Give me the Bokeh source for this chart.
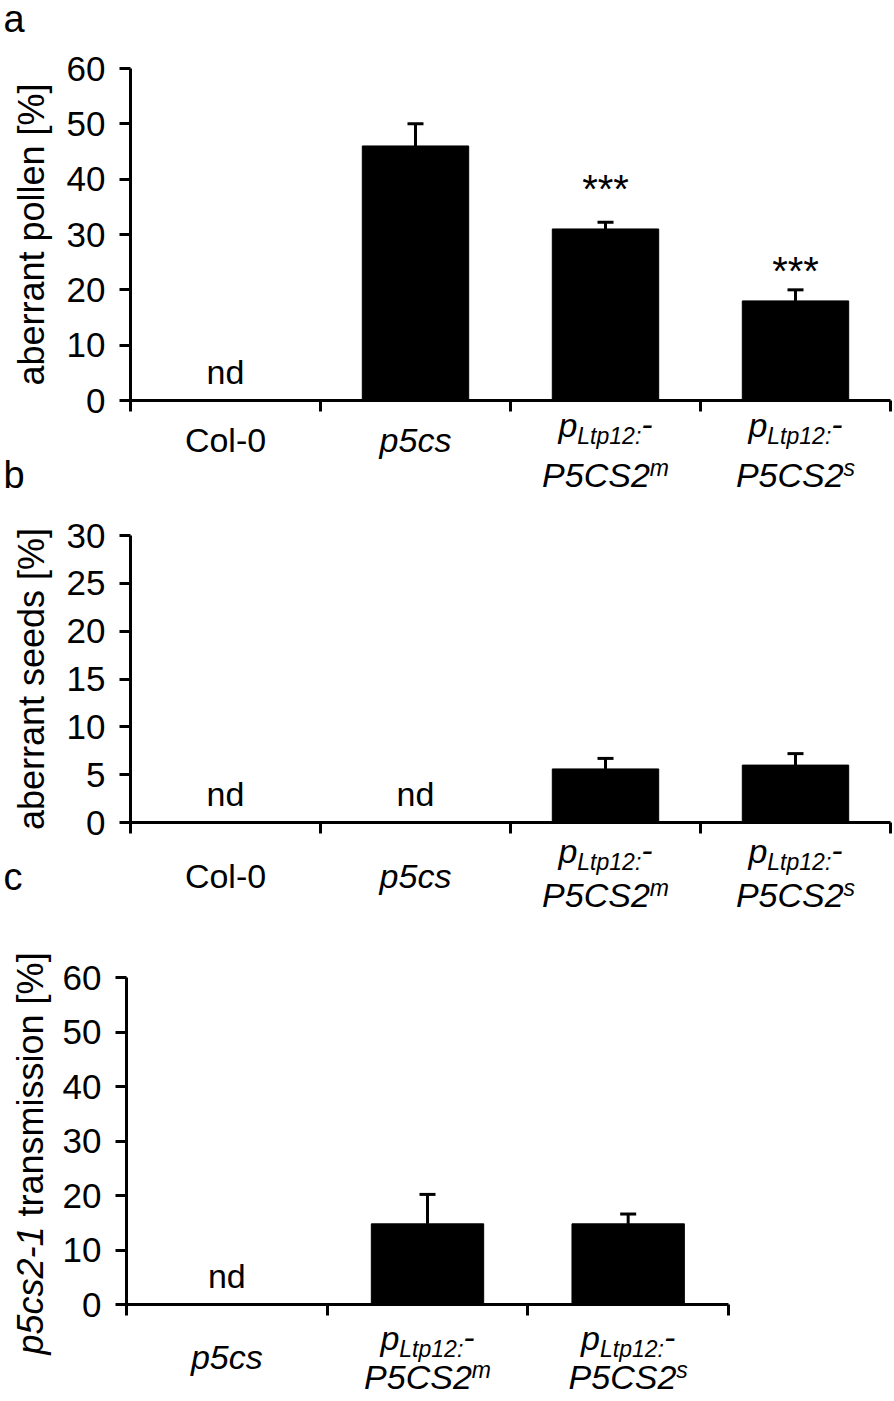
import math
from bokeh.plotting import figure
from bokeh.layouts import column
from bokeh.models import (Range1d, FixedTicker, Label, Whisker, TeeHead,
                          ColumnDataSource, CustomJSTickFormatter)
from bokeh.core.properties import value
from bokeh.embed import file_html
from bokeh.resources import INLINE

FONT = "Liberation Sans"

# ---------------- data ----------------
cats_ab = ["Col-0", "p5cs", "pLtp12:-P5CS2m", "pLtp12:-P5CS2s"]
cats_c = ["p5cs", "pLtp12:-P5CS2m", "pLtp12:-P5CS2s"]

pollen = [0.0, 46.0, 31.0, 18.0]
pollen_err = [0.0, 4.0, 1.2, 2.0]
pollen_nd = [True, False, False, False]
pollen_sig = ["", "", "***", "***"]
pollen_sig_y = [0, 0, 38.3, 23.4]

seeds = [0.0, 0.0, 5.6, 6.0]
seeds_err = [0.0, 0.0, 1.1, 1.2]
seeds_nd = [True, True, False, False]

transmission = [0.0, 14.8, 14.8]
transmission_err = [0.0, 5.4, 1.8]
transmission_nd = [True, False, False]

yticks_a = [0, 10, 20, 30, 40, 50, 60]
yticks_b = [0, 5, 10, 15, 20, 25, 30]
yticks_c = [0, 10, 20, 30, 40, 50, 60]

# rich category labels: lines of (text, font style, position)
LABELS = {
    "Col-0": [[("Col-0", "normal", "")]],
    "p5cs": [[("p5cs", "italic", "")]],
    "pLtp12:-P5CS2m": [[("p", "italic", ""), ("Ltp12:", "italic", "sub"), ("-", "italic", "")],
                       [("P5CS2", "italic", ""), ("m", "italic", "sup")]],
    "pLtp12:-P5CS2s": [[("p", "italic", ""), ("Ltp12:", "italic", "sub"), ("-", "italic", "")],
                       [("P5CS2", "italic", ""), ("s", "italic", "sup")]],
}

# Arial / Liberation Sans advance widths (1/1000 em)
W = {' ': 278, '-': 333, ':': 278, 'C': 722, 'L': 556, 'P': 667, 'S': 667,
     'a': 556, 'b': 556, 'c': 500, 'd': 556, 'e': 556, 'i': 222, 'l': 222,
     'm': 833, 'n': 556, 'o': 556, 'p': 556, 'r': 333, 's': 500, 't': 278,
     '[': 278, ']': 278, '%': 889, '*': 389}


def tw(text, size):
    return sum(W.get(ch, 556) for ch in text) / 1000.0 * size


def bfix(size):
    # the rendered alphabetic baseline sits about 0.4 em below the anchor
    return 0.4 * size


FS_MAIN = 34
FS_SMALL = 23
FS_TICK = 35
FS_TITLE = 36
FS_LETTER = 38
PAGE_L, PAGE_R = 0, 894


class Panel:
    """A figure whose frame fills the canvas; axes sit at data zero."""

    def __init__(self, n, ymax, yticks, top, bottom, x0, xn, y0, ytop):
        self.ux = (xn - x0) / n
        self.uy = (y0 - ytop) / ymax
        self.x0, self.y0 = x0, y0
        p = figure(width=PAGE_R - PAGE_L, height=bottom - top,
                   x_range=Range1d((PAGE_L - x0) / self.ux, (PAGE_R - x0) / self.ux),
                   y_range=Range1d(-(bottom - y0) / self.uy, (y0 - top) / self.uy),
                   output_backend="svg", toolbar_location=None, title=None,
                   min_border=0)
        p.outline_line_color = None
        p.grid.visible = False
        p.background_fill_color = "white"
        p.border_fill_color = "white"
        for ax in (p.xaxis, p.yaxis):
            ax.fixed_location = 0
            ax.axis_line_width = 3
            ax.axis_line_color = "black"
            ax.major_tick_line_width = 3
            ax.major_tick_line_color = "black"
            ax.major_tick_in = 0
            ax.major_tick_out = 11
            ax.minor_tick_line_color = None
        p.xaxis.bounds = (0, n)
        p.xaxis.ticker = FixedTicker(ticks=list(range(n + 1)))
        p.xaxis.formatter = CustomJSTickFormatter(code="return ''")
        p.yaxis.bounds = (0, ymax)
        p.yaxis.ticker = FixedTicker(ticks=yticks)
        p.yaxis.major_label_text_font = FONT
        p.yaxis.major_label_text_font_size = f"{FS_TICK}px"
        p.yaxis.major_label_text_color = "black"
        p.yaxis.major_label_standoff = 14
        p.yaxis.axis_label_text_font = FONT
        p.yaxis.axis_label_text_font_size = f"{FS_TITLE}px"
        p.yaxis.axis_label_text_font_style = "normal"
        p.yaxis.axis_label_text_color = "black"
        p.yaxis.axis_label_standoff = 12
        self.p = p

    def dx(self, page_x):
        return (page_x - self.x0) / self.ux

    def dy(self, page_y):
        return (self.y0 - page_y) / self.uy

    def bars(self, vals, errs, nd):
        p = self.p
        xs = [i + 0.5 for i in range(len(vals))]
        bx = [x for x, f in zip(xs, nd) if not f]
        bv = [v for v, f in zip(vals, nd) if not f]
        be = [v + e for v, e, f in zip(vals, errs, nd) if not f]
        p.vbar(x=bx, top=bv, bottom=0, width=0.56, fill_color="black", line_color="black")
        src = ColumnDataSource(dict(x=bx, lower=bv, upper=be))
        p.add_layout(Whisker(base="x", lower="lower", upper="upper", source=src,
                             line_width=3, line_color="black", lower_head=None,
                             upper_head=TeeHead(size=16, line_width=3, line_color="black")))
        ndx = [x for x, f in zip(xs, nd) if f]
        ndy = (15 + bfix(FS_MAIN)) / self.uy
        p.text(x=ndx, y=[ndy] * len(ndx), text=["nd"] * len(ndx),
               text_align="center", text_baseline="alphabetic",
               text_font=value(FONT), text_font_size=f"{FS_MAIN}px", text_color="black")

    def cat_labels(self, cats, single_bl, line1_bl, line2_bl):
        p = self.p
        xs, ys, ts, styles, sizes_px = [], [], [], [], []
        for i, cat in enumerate(cats):
            lines = LABELS[cat]
            bls = [single_bl] if len(lines) == 1 else [line1_bl, line2_bl]
            for line, bl in zip(lines, bls):
                sizes = [FS_SMALL if pos else FS_MAIN for _, _, pos in line]
                total = sum(tw(t, s) for (t, _, _), s in zip(line, sizes))
                off = -total / 2
                for (t, style, pos), s in zip(line, sizes):
                    dyp = {"": 0, "sub": 7, "sup": -11}[pos]
                    xs.append(i + 0.5 + off / self.ux)
                    ys.append(-(bl + dyp - bfix(s)) / self.uy)
                    ts.append(t)
                    styles.append(style)
                    sizes_px.append(f"{s}px")
                    off += tw(t, s)
        src = ColumnDataSource(dict(x=xs, y=ys, text=ts, style=styles, size=sizes_px))
        p.text(x="x", y="y", text="text", source=src, text_font=value(FONT),
               text_font_style="style", text_font_size="size", text_color="black",
               text_align="left", text_baseline="alphabetic")

    def letter(self, ch, page_x, page_y):
        self.p.add_layout(Label(x=self.dx(page_x), y=self.dy(page_y - bfix(FS_LETTER)),
                                text=ch, text_font=FONT, text_font_size=f"{FS_LETTER}px",
                                text_color="black", text_align="left",
                                text_baseline="alphabetic"))


# ---------------- panel a ----------------
A = Panel(4, 60, yticks_a, 0, 505, 130, 890, 400, 68)
A.p.yaxis.axis_label = "aberrant pollen [%]"
A.bars(pollen, pollen_err, pollen_nd)
sx = [i + 0.5 for i, s in enumerate(pollen_sig) if s]
sy = [y for y, s in zip(pollen_sig_y, pollen_sig) if s]
st = [s for s in pollen_sig if s]
A.p.text(x=sx, y=sy, text=st, text_align="center", text_baseline="middle",
         text_font=value(FONT), text_font_size="40px", text_color="black")
A.cat_labels(cats_ab, 53, 38, 88)
A.letter("a", 3, 34)
A.letter("b", 3, 490)

# ---------------- panel b ----------------
B = Panel(4, 30, yticks_b, 505, 915, 130, 890, 822, 535)
B.p.yaxis.axis_label = "aberrant seeds [%]"
B.bars(seeds, seeds_err, seeds_nd)
B.cat_labels(cats_ab, 67, 42, 86)
B.letter("c", 3, 892)

# ---------------- panel c ----------------
C = Panel(3, 60, yticks_c, 915, 1400, 126, 728, 1304, 977)
C.bars(transmission, transmission_err, transmission_nd)
C.cat_labels(cats_c, 66, 47, 86)
t1 = "p5cs2-1"
t2 = "transmission [%]"
start = 1354
base_x = 44 - bfix(FS_TITLE)
for txt, style, shift in ((t1, "italic", 0), (t2, "normal", tw(t1 + " ", FS_TITLE))):
    C.p.add_layout(Label(x=C.dx(base_x), y=C.dy(start - shift), text=txt, angle=math.pi / 2,
                         text_font=FONT, text_font_size=f"{FS_TITLE}px",
                         text_font_style=style, text_color="black",
                         text_align="left", text_baseline="alphabetic"))

layout = column(A.p, B.p, C.p, spacing=0)
open("out.html", "w").write(file_html(layout, INLINE))
